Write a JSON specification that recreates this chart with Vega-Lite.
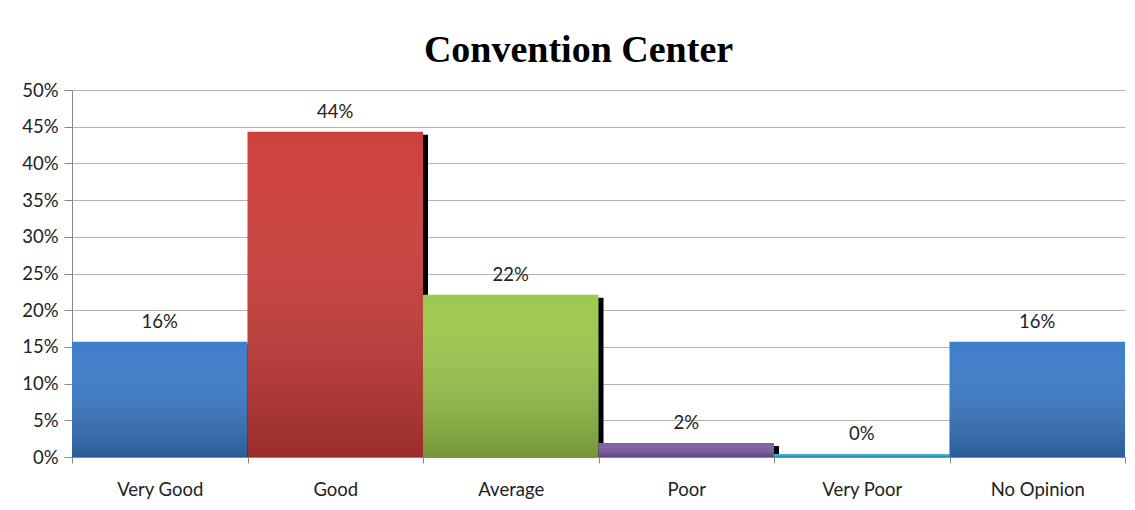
{
  "$schema": "https://vega.github.io/schema/vega-lite/v6.json",
  "width": 1053,
  "height": 367,
  "autosize": {"type": "none"},
  "padding": {"left": 72, "top": 90, "right": 10, "bottom": 53},
  "background": "white",
  "title": {
    "text": "Convention Center",
    "font": "Liberation Serif",
    "fontSize": 38,
    "fontWeight": "bold",
    "color": "black",
    "anchor": "middle",
    "dx": -20,
    "offset": 11
  },
  "config": {
    "view": {"stroke": null},
    "axis": {
      "labelFont": "Lato",
      "labelFontSize": 18.5,
      "labelColor": "#222222",
      "domainColor": "#888888",
      "tickColor": "#888888",
      "gridColor": "#b4b4b4",
      "titleFontSize": 0
    }
  },
  "data": {
    "values": [
      {"rating": "Very Good", "share": 0.157},
      {"rating": "Good", "share": 0.443},
      {"rating": "Average", "share": 0.221},
      {"rating": "Poor", "share": 0.019},
      {"rating": "Very Poor", "share": 0.004},
      {"rating": "No Opinion", "share": 0.157}
    ]
  },
  "encoding": {
    "x": {
      "field": "rating",
      "type": "nominal",
      "sort": null,
      "scale": {"paddingInner": 0, "paddingOuter": 0},
      "axis": {
        "title": null,
        "labelAngle": 0,
        "tickBand": "extent",
        "tickSize": 6,
        "labelPadding": 17,
        "domainColor": "#888888"
      }
    },
    "y": {
      "field": "share",
      "type": "quantitative",
      "scale": {"domain": [0, 0.5], "nice": false},
      "axis": {
        "title": null,
        "format": ".0%",
        "values": [0, 0.05, 0.1, 0.15, 0.2, 0.25, 0.3, 0.35, 0.4, 0.45, 0.5],
        "tickSize": 8,
        "labelPadding": 6,
        "grid": true
      }
    }
  },
  "layer": [
    {
      "mark": {"type": "bar", "color": "black", "xOffset": 5, "yOffset": 3, "clip": true}
    },
    {
      "mark": {"type": "bar"},
      "encoding": {
        "color": {
          "field": "rating",
          "type": "nominal",
          "legend": null,
          "scale": {
            "domain": ["Very Good", "Good", "Average", "Poor", "Very Poor", "No Opinion"],
            "range": ["#3a7bc9", "#cd3c39", "#9cc84b", "#7e5ba7", "#36afcf", "#3a7bc9"]
          }
        }
      }
    },
    {
      "mark": {
        "type": "bar",
        "fill": {
          "gradient": "linear",
          "x1": 0, "y1": 0, "x2": 0, "y2": 1,
          "stops": [
            {"offset": 0, "color": "rgba(255,255,255,0.02)"},
            {"offset": 1, "color": "rgba(0,0,0,0.25)"}
          ]
        }
      }
    },
    {
      "mark": {"type": "text", "dy": -20, "font": "Lato", "fontSize": 18.5, "color": "#222222"},
      "encoding": {
        "text": {"field": "share", "type": "quantitative", "format": ".0%"}
      }
    }
  ]
}
